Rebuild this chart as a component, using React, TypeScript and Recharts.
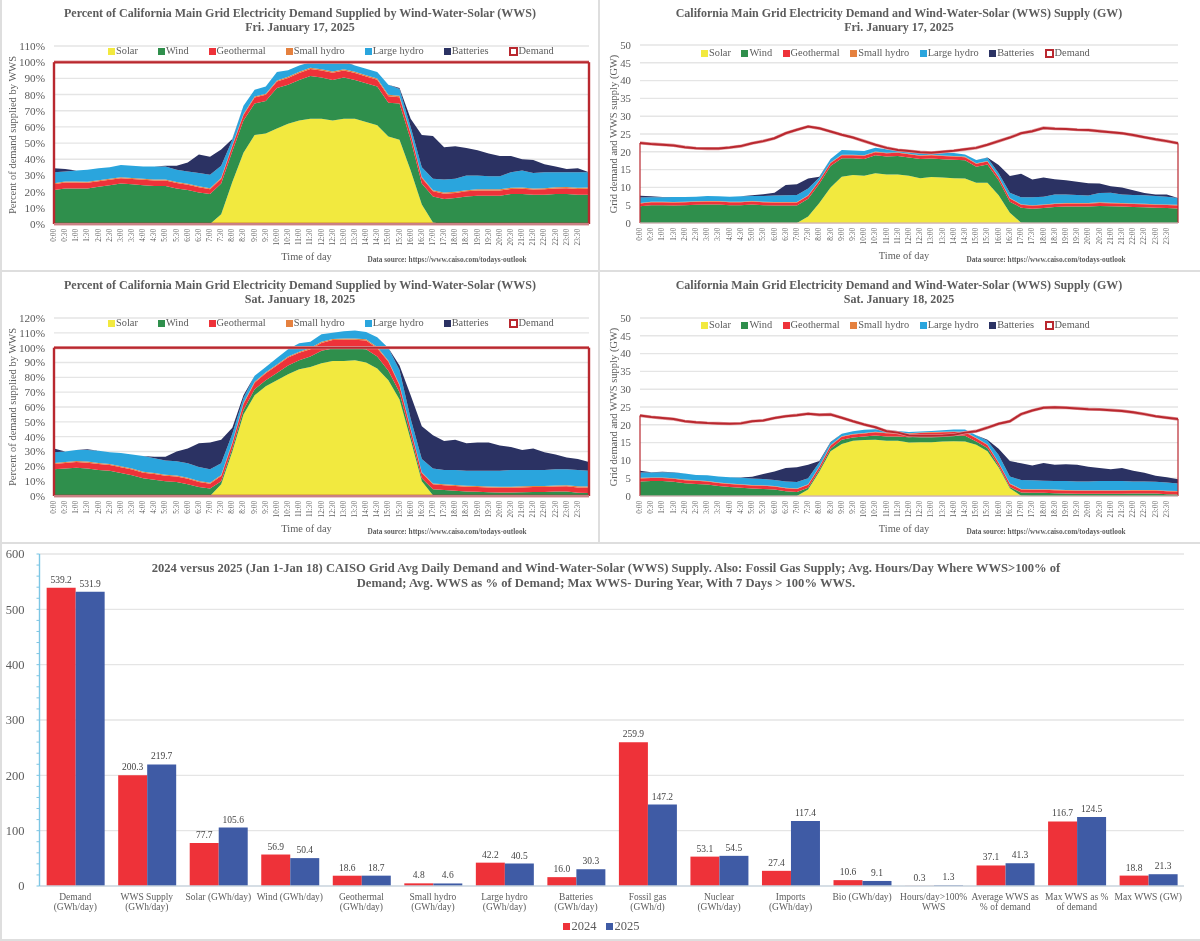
import React from "react";
import {
  ComposedChart, Area, Line, Bar, BarChart, XAxis, YAxis, CartesianGrid, ReferenceLine, Legend, LabelList,
} from "recharts";

const times = [
  "0:00","0:30","1:00","1:30","2:00","2:30","3:00","3:30","4:00","4:30",
  "5:00","5:30","6:00","6:30","7:00","7:30","8:00","8:30","9:00","9:30",
  "10:00","10:30","11:00","11:30","12:00","12:30","13:00","13:30","14:00","14:30",
  "15:00","15:30","16:00","16:30","17:00","17:30","18:00","18:30","19:00","19:30",
  "20:00","20:30","21:00","21:30","22:00","22:30","23:00","23:30","24:00",
];

// Fri Jan 17 – percent of demand
const pct17Solar = [0,0,0,0,0,0,0,0,0,0, 0,0,0,0,0,6,26,44,55,56, 59,62,64,65,65,64,65,65,63,61, 54,52,33,12,1,0,0,0,0,0, 0,0,0,0,0,0,0,0,0];
const pct17Wind = [21,22,22,22,23,24,25,24.5,24,23.5, 23.5,22,21,19.5,18.5,19,19,20,19.5,20, 25,24,25,26.5,25.5,25,25.5,24,24,24, 21,22.5,19,13,16,15.5,16,17,17.5,17.5, 17.5,18.5,18.5,18,18,18.5,18.5,18,18];
const pct17Geo = [3.6,3.6,3.6,3.5,3.4,3.4,3.3,3.3,3.4,3.4, 3.4,3.4,3.3,3.2,3,3,3,3.3,3.6,3.8, 4,4.2,4.3,4.3,4.4,4.4,4.4,4.3,4.2,4.1, 4,3.9,3.6,3.4,3.2,3.2,3.2,3.2,3.2,3.2, 3.2,3.2,3.3,3.3,3.4,3.5,3.6,3.7,3.8];
const pct17Small = [.6,.6,.6,.6,.6,.6,.6,.6,.6,.6, .6,.6,.6,.6,.6,.6,.7,.7,.7,.7, .7,.8,.8,.8,.8,.8,.8,.8,.8,.8, .8,.8,.7,.6,.6,.7,.7,.7,.7,.7, .7,.7,.7,.7,.7,.7,.7,.7,.7];
const pct17Large = [6.8,6.3,6.8,7.4,7.5,7,7.6,7.6,7.5,8, 8,7.5,7.6,8.2,8.4,7.4,3.3,5,4.2,4.5, 5.3,4,3.9,3.4,4.3,5.8,4.3,3.9,4,4.1, 6.2,4.3,3.7,6,7.1,8.1,8.1,9.1,8.6,8.1, 8.1,9.6,10.5,9.5,9.9,9.3,9.2,9.6,9.5];
const pct17Batt = [2.5,1.5,0,0,0,0,0,0,0,0, .5,2.5,5.5,11.5,11,10,.5,0,0,0, 0,0,0,0,.5,.5,.5,0,0,0, 0,.5,5,20,26.5,20,20,17,15.5,14, 12.5,10,7,8,5,3.5,2,2.5,0];
const pctDemand = [100,100,100,100,100,100,100,100,100,100, 100,100,100,100,100,100,100,100,100,100, 100,100,100,100,100,100,100,100,100,100, 100,100,100,100,100,100,100,100,100,100, 100,100,100,100,100,100,100,100,100];

// Fri Jan 17 – GW
const gw17Solar = [0,0,0,0,0,0,0,0,0,0, 0,0,0,0,0,1.8,5.6,10,13,13.5, 13.3,14,13.6,13.6,13.3,12.6,12.9,12.8,12.6,12.5, 11.3,11.3,7.8,2.9,.1,0,0,0,0,0, 0,0,0,0,0,0,0,0,0];
const gw17Wind = [4.7,5,5,4.9,5,5.1,5.2,5.2,5,5, 5.2,5,4.9,4.9,4.9,5,5.4,6,5.2,4.7, 4.7,5,5.1,5.2,5.1,5.4,5.2,5.1,5.2,5.1, 4.5,5.1,4.2,3.1,4.2,4,4.2,4.5,4.6,4.6, 4.6,4.8,4.7,4.6,4.5,4.4,4.3,4.2,4.1];
const gw17Geo = [.8,.85,.85,.85,.85,.85,.85,.85,.85,.85, .85,.85,.85,.85,.85,.85,.85,.85,.85,.85, .9,.9,.9,.9,.9,.9,.9,.9,.9,.9, .85,.85,.85,.85,.85,.85,.85,.85,.85,.85, .85,.85,.85,.85,.85,.85,.85,.85,.85];
const gw17Small = [.15,.15,.15,.15,.15,.15,.15,.15,.15,.15, .15,.15,.15,.15,.15,.15,.15,.15,.15,.15, .15,.15,.15,.15,.15,.15,.15,.15,.15,.15, .15,.15,.15,.15,.15,.15,.15,.15,.15,.15, .15,.15,.15,.15,.15,.15,.15,.15,.15];
const gw17Large = [1.5,1.2,1.2,1.4,1.3,1.3,1.4,1.3,1.4,1.5, 1.4,1.6,1.8,1.9,2,1.9,.8,1,1.3,1.2, 1.2,1.1,1,.8,.9,.9,.7,.8,.8,.6, .9,.9,1,1.5,1.9,2.2,2.2,2.5,2.4,2.3, 2.1,2.6,2.8,2.4,2.4,2.4,2.3,2.2,1.9];
const gw17Batt = [.5,.3,.1,0,0,0,0,0,0,0, .2,.5,.8,2.9,3,2.8,.2,0,0,0, 0,0,0,0,0,0,0,0,0,0, 0,.1,2.3,4.7,6.6,5,5.4,4.3,4,3.7, 3.5,2.7,1.8,2,1.3,.6,.4,.6,0];
const gw17Demand = [22.5,22.2,22,21.8,21.3,21,20.9,20.9,21.2,21.6, 22.4,23,23.8,25.2,26.2,27.1,26.6,25.7,24.8,24, 23,22,21.1,20.5,20.2,19.9,19.7,20,20.3,20.7, 21.1,22,23,24,25.2,25.8,26.7,26.5,26.4,26.2, 26.1,25.8,25.5,25.2,24.7,24.1,23.5,23,22.4];

// Sat Jan 18 – percent of demand
const pct18Solar = [0,0,0,0,0,0,0,0,0,0, 0,0,0,0,0,8,30,55,68,74, 78,82,85.5,87,89.5,91,91,91.5,90,86, 78,65,38,10,.5,0,0,0,0,0, 0,0,0,0,0,0,0,0,0];
const pct18Wind = [18,18.5,19,18.5,17.5,17,15.5,14,12,11, 10,9.5,8,6,5,2,2,3,4,4, 5,6,6,7,8.5,8.5,8.5,8,9,8, 6.5,5,3,2,4,4,3.5,3,2.8,2.5, 2.3,2.3,2.5,2.7,2.7,3,3,2.2,2];
const pct18Geo = [3.6,3.8,3.9,4,4,3.9,3.8,3.8,3.7,3.8, 3.7,3.7,3.6,3.4,3.3,3.4,3.6,4,4.4,4.8, 5,5.4,5,5,5.2,5.6,5.8,5.9,5.8,5.6, 6,4.5,4,3.5,3.4,3.2,3.2,3.2,3.2,3.2, 3.2,3.3,3.3,3.3,3.4,3.4,3.5,3.6,3.7];
const pct18Small = [.7,.7,.7,.7,.7,.7,.7,.7,.7,.7, .7,.7,.7,.7,.7,.7,.7,.7,.7,.7, .7,.7,.7,.7,.8,.8,.8,.8,.8,.8, .7,.7,.5,.5,.6,.7,.7,.7,.7,.7, .7,.7,.7,.7,.7,.7,.7,.7,.7];
const pct18Large = [7.2,7,7.4,7.8,8.3,7.9,9,9.5,10.6,10, 9.6,9.6,9.7,9.4,9,7.9,5.7,3.3,3.9,3.5, 4.3,4.9,5.8,4.3,5,4.1,4.9,5.3,4.9,6.6, 8.5,9.8,6.5,9,10,9.6,10.1,10.1,10.3,10.6, 10.8,11.2,11,10.8,10.7,10.9,10.8,11,10.6];
const pct18Batt = [2.5,0,0,.5,0,0,0,0,0,1, 2.5,6.5,10,16,18,16,4,2,0,0, 0,0,0,0,0,0,0,0,0,0, 0,3,16,22,22.5,19.5,20.5,18.5,19,19, 17,15.5,13.5,14.5,12,10,8,7.5,6];

// Sat Jan 18 – GW
const gw18Solar = [0,0,0,0,0,0,0,0,0,0, 0,0,0,0,0,1.8,6.8,12.6,14.6,15.5, 15.7,15.8,15.5,15.5,15,15.1,15.1,15.3,15.4,15.3, 14.4,12.6,8,2.2,.1,0,0,0,0,0, 0,0,0,0,0,0,0,0,0];
const gw18Wind = [4.1,4.2,4.2,4,3.6,3.4,3.2,2.8,2.5,2.3, 2.1,2,1.8,1.3,1.1,.5,.5,.7,1.2,.9, 1,1.2,1.2,1.2,1.5,1.6,1.7,1.6,1.6,1.6, .9,.9,.4,.3,.9,.9,.9,.8,.7,.6, .6,.6,.6,.6,.7,.7,.7,.5,.4];
const gw18Geo = [.85,.85,.85,.85,.85,.85,.85,.85,.85,.85, .85,.85,.85,.85,.85,.85,.85,.85,.85,.85, .85,.9,.9,.9,1,1,1,1,1,1, .9,.85,.85,.85,.85,.85,.85,.85,.85,.85, .85,.85,.85,.85,.85,.85,.85,.85,.85];
const gw18Small = gw17Small;
const gw18Large = [1.5,1.4,1.5,1.6,1.7,1.5,1.6,1.7,1.8,1.8, 1.8,1.8,1.7,1.8,1.8,1.7,1.2,.7,.7,.8, .9,.7,.8,.5,.3,.3,.3,.4,.5,.6, .7,1,2.1,2,2.5,2.5,2.4,2.4,2.5,2.5, 2.5,2.6,2.6,2.6,2.4,2.4,2.3,2.3,2.1];
const gw18Batt = [.5,.1,.1,.1,0,0,0,0,0,.1, .5,1.4,2.4,3.8,4.2,3.8,.3,.2,0,0, 0,0,0,0,0,0,0,0,0,0, 0,.3,1.8,4.3,4.7,4.2,5,4.6,4.7,4.7, 4.1,3.7,3.3,3.7,3,2.4,1.7,1.5,1.2];
const gw18Demand = [22.6,22.2,21.9,21.6,21,20.7,20.5,20.4,20.3,20.4, 21,21.2,21.9,22.4,22.7,23.1,22.8,22.9,22,21, 20.1,19.3,18.2,17.8,17,16.9,16.9,17,17.2,17.8, 18.2,19.2,20.3,21,23,24,24.8,24.9,24.8,24.6, 24.4,24.3,24.1,23.9,23.5,23,22.4,22,21.6];

// Bottom panel
const summaryCategories = [
  "Demand\n(GWh/day)","WWS Supply\n(GWh/day)","Solar (GWh/day)","Wind (GWh/day)","Geothermal\n(GWh/day)","Small hydro\n(GWh/day)",
  "Large hydro\n(GWh/day)","Batteries\n(GWh/day)","Fossil gas\n(GWh/d)","Nuclear\n(GWh/day)","Imports\n(GWh/day)","Bio (GWh/day)",
  "Hours/day>100%\nWWS","Average WWS as\n% of demand","Max WWS as %\nof demand","Max WWS (GW)",
];
const summary2024 = [539.2,200.3,77.7,56.9,18.6,4.8,42.2,16.0,259.9,53.1,27.4,10.6,0.3,37.1,116.7,18.8];
const summary2025 = [531.9,219.7,105.6,50.4,18.7,4.6,40.5,30.3,147.2,54.5,117.4,9.1,1.3,41.3,124.5,21.3];
const summaryAxisTicks = [0,20,40,60,80,100,120,140,160,180,200,220,240,260,280,300,320,340,360,380,400,420,440,460,480,500,520,540,560,580,600];
const summaryGrid = [100,200,300,400,500,600];

const SERIES = [
  { key: "solar", name: "Solar", color: "#f2e93f" },
  { key: "wind", name: "Wind", color: "#2f8f4c" },
  { key: "geo", name: "Geothermal", color: "#ee3239" },
  { key: "small", name: "Small hydro", color: "#e5813f" },
  { key: "large", name: "Large hydro", color: "#2aa5dd" },
  { key: "batt", name: "Batteries", color: "#2b3263" },
];
const DEMAND_COLOR = "#b9282f";
const DEMAND_HALO = "#e39a9d";
const HALO_NAME = "Demand outline";
const TEXT = "#5c5c5c";
const GRID = "#e5e5e5";
const FONT = "'Liberation Serif', serif";

const makeRows = (s: number[], w: number[], g: number[], sm: number[], l: number[], b: number[], d: number[]) =>
  times.map((time, i) => ({ time, solar: s[i], wind: w[i], geo: g[i], small: sm[i], large: l[i], batt: b[i], demand: d[i] }));

const rows1 = makeRows(pct17Solar, pct17Wind, pct17Geo, pct17Small, pct17Large, pct17Batt, pctDemand);
const rows2 = makeRows(gw17Solar, gw17Wind, gw17Geo, gw17Small, gw17Large, gw17Batt, gw17Demand);
const rows3 = makeRows(pct18Solar, pct18Wind, pct18Geo, pct18Small, pct18Large, pct18Batt, pctDemand);
const rows4 = makeRows(gw18Solar, gw18Wind, gw18Geo, gw18Small, gw18Large, gw18Batt, gw18Demand);

const TimeTick = (p: any) => {
  if (p.payload.value === "24:00") return null;
  return (
    <text x={p.x} y={p.y} transform={`rotate(-90 ${p.x} ${p.y})`} textAnchor="end" dominantBaseline="central"
      fontSize={7.2} fontFamily={FONT} fill={TEXT}>{p.payload.value}</text>
  );
};

const CategoryTick = (p: any) => {
  const lines = String(p.payload.value).split("\n");
  return (
    <text x={p.x} y={p.y} textAnchor="middle" fontSize={9.5} fontFamily={FONT} fill={TEXT}>
      {lines.map((t, i) => <tspan key={i} x={p.x} dy={i === 0 ? 0 : 10}>{t}</tspan>)}
    </text>
  );
};

const DayLegend = ({ payload, gap }: any) => (
  <div style={{ display: "flex", gap, fontFamily: FONT, fontSize: 10.4, color: TEXT, lineHeight: "12px", whiteSpace: "nowrap" }}>
    {(payload || []).filter((e: any) => e.value !== HALO_NAME).map((e: any) => (
      <span key={e.value} style={{ display: "flex", alignItems: "center", gap: 1 }}>
        <span style={e.value === "Demand"
          ? { width: 5, height: 5, border: `2px solid ${DEMAND_COLOR}`, background: "#fff", display: "inline-block" }
          : { width: 7, height: 7, background: e.color, display: "inline-block" }} />
        {e.value}
      </span>
    ))}
  </div>
);

const Caption = ({ x, y, children, size = 12, bold = true, w = 600 }: any) => (
  <div style={{ position: "absolute", left: x - w / 2, top: y, width: w, textAlign: "center", fontFamily: FONT,
    fontSize: size, fontWeight: bold ? 700 : 400, color: TEXT, lineHeight: "14px", whiteSpace: "nowrap" }}>{children}</div>
);

const DayChart = ({ box, plot, rows, yMax, yStep, suffix, yTitle, rightAxis, legendAt, legendGap, xTitleDx, edge }: any) => {
  const yTicks: number[] = [];
  for (let v = 0; v <= yMax; v += yStep) yTicks.push(v);
  const first = rows[0];
  const last = rows[rows.length - 1];
  const tickFont = suffix ? 11.2 : 10.8;
  return (
    <div style={{ position: "absolute", left: box.x, top: box.y }}>
      <ComposedChart width={box.w} height={box.h} data={rows}
        margin={{ top: plot.top, left: plot.left - 30, right: box.w - plot.right - (rightAxis ? 22 : 0), bottom: box.h - plot.bottom - 44 }}>
        <CartesianGrid horizontal vertical={false} stroke={GRID} strokeWidth={1.4} />
        <XAxis dataKey="time" interval={0} height={44} tick={<TimeTick />} tickLine={false} tickMargin={0} tickSize={5}
          axisLine={{ stroke: "#d9d9d9" }}
          label={{ value: "Time of day", position: "insideBottom", offset: 8, dx: xTitleDx, fontSize: 10.4, fontFamily: FONT, fill: TEXT }} />
        <YAxis width={30} domain={[0, yMax]} ticks={yTicks} interval={0} tickLine={false} axisLine={false} tickMargin={3}
          tickFormatter={(v: number) => `${v}${suffix}`} tick={{ fontSize: tickFont, fontFamily: FONT, fill: TEXT }}
          label={{ value: yTitle, angle: -90, position: "insideLeft", offset: 0, dx: suffix ? -12 : 3, style: { textAnchor: "middle" }, fontSize: 10.5, fontFamily: FONT, fill: TEXT }} />
        {rightAxis ? (
          <YAxis yAxisId="right" orientation="right" width={22} domain={[0, yMax]} ticks={yTicks} interval={0}
            tickLine={false} axisLine={false} tickMargin={9}
            tick={{ fontSize: tickFont, fontFamily: FONT, fill: TEXT }} />
        ) : null}
        <Legend verticalAlign="middle" align="center" layout="horizontal" itemSorter={null}
          wrapperStyle={{ left: legendAt.x, top: legendAt.y, width: 520, height: 14, bottom: "auto", right: "auto" }}
          content={(p: any) => <DayLegend payload={p.payload} gap={legendGap} />} />
        {SERIES.map((s) => (
          <Area key={s.key} dataKey={s.key} name={s.name} stackId="wws" type="linear" fill={s.color} fillOpacity={1}
            stroke="none" dot={false} activeDot={false} isAnimationActive={false} />
        ))}
        <Line dataKey="demand" name={HALO_NAME} legendType="none" type="linear" stroke={DEMAND_HALO} strokeWidth={3.2} dot={false} activeDot={false} isAnimationActive={false} />
        <Line dataKey="demand" name="Demand" type="linear" stroke={DEMAND_COLOR} strokeWidth={2} dot={false} activeDot={false} isAnimationActive={false} />
        <ReferenceLine segment={[{ x: first.time, y: 0 }, { x: first.time, y: first.demand }]} stroke={DEMAND_COLOR} strokeWidth={edge} />
        <ReferenceLine segment={[{ x: last.time, y: 0 }, { x: last.time, y: last.demand }]} stroke={DEMAND_COLOR} strokeWidth={edge} />
        <ReferenceLine segment={[{ x: first.time, y: 0 }, { x: last.time, y: 0 }]} stroke={DEMAND_COLOR} strokeWidth={edge} strokeOpacity={edge > 2 ? 1 : 0.55} />
      </ComposedChart>
    </div>
  );
};

const summaryRows = summaryCategories.map((c, i) => ({ c, y2024: summary2024[i], y2025: summary2025[i] }));

const SummaryLegend = ({ payload }: any) => (
  <div style={{ display: "flex", gap: 9, justifyContent: "center", fontFamily: FONT, fontSize: 12.5, color: TEXT, lineHeight: "14px" }}>
    {(payload || []).map((e: any) => (
      <span key={e.value} style={{ display: "flex", alignItems: "center", gap: 2 }}>
        <span style={{ width: 7, height: 7, background: e.color, display: "inline-block" }} />{e.value}
      </span>
    ))}
  </div>
);

const SummaryChart = () => (
  <div style={{ position: "absolute", left: 0, top: 543 }}>
    <BarChart width={1200} height={398} data={summaryRows} barCategoryGap="10%" barGap={0}
      margin={{ top: 11, left: 9.5, right: 16, bottom: 12 }}>
      <CartesianGrid horizontal vertical={false} horizontalValues={summaryGrid} stroke={GRID} strokeWidth={1.4} />
      <XAxis dataKey="c" interval={0} height={43} tick={<CategoryTick />} tickLine={false} tickMargin={8} axisLine={{ stroke: "#c9d3dc", strokeWidth: 1.5 }} />
      <YAxis width={30} domain={[0, 600]} ticks={summaryAxisTicks} interval={0} axisLine={{ stroke: "#7cc6e4", strokeWidth: 1.4 }}
        tickLine={{ stroke: "#7cc6e4" }} tickSize={3} tickMargin={12}
        tickFormatter={(v: number) => (v % 100 === 0 ? String(v) : "")} tick={{ fontSize: 12.5, fontFamily: FONT, fill: TEXT }} />
      <Legend verticalAlign="middle" align="center" layout="horizontal" itemSorter={null}
        wrapperStyle={{ left: 416, top: 376, width: 370, height: 16, bottom: "auto", right: "auto" }}
        content={(p: any) => <SummaryLegend payload={p.payload} />} />
      <Bar dataKey="y2024" name="2024" fill="#ee3239" isAnimationActive={false}>
        <LabelList dataKey="y2024" position="top" offset={5} formatter={(v: number) => v.toFixed(1)} style={{ fontSize: 9.5, fontFamily: FONT, fill: "#444" }} />
      </Bar>
      <Bar dataKey="y2025" name="2025" fill="#3f5ba5" isAnimationActive={false}>
        <LabelList dataKey="y2025" position="top" offset={5} formatter={(v: number) => v.toFixed(1)} style={{ fontSize: 9.5, fontFamily: FONT, fill: "#444" }} />
      </Bar>
    </BarChart>
  </div>
);

const Rule = ({ x, y, w, h }: any) => <div style={{ position: "absolute", left: x, top: y, width: w, height: h, background: "#dedede" }} />;

const TITLE_PCT = "Percent of California Main Grid Electricity Demand Supplied by Wind-Water-Solar (WWS)";
const TITLE_GW = "California Main Grid Electricity Demand and Wind-Water-Solar (WWS) Supply (GW)";
const SOURCE = "Data source: https://www.caiso.com/todays-outlook";

export default function App() {
  return (
    <div style={{ position: "absolute", left: 0, top: 0, width: 1200, height: 941, background: "#fff", overflow: "hidden", filter: "blur(0.35px)" }}>
      <DayChart box={{ x: 0, y: 0, w: 599, h: 271 }} plot={{ left: 54, right: 589, top: 46, bottom: 224 }} rows={rows1} yMax={110} yStep={10} suffix="%"
        yTitle="Percent of demand supplied by WWS" legendAt={{ x: 108, y: 45 }} legendGap={20} xTitleDx={-15} edge={2.4} />
      <DayChart box={{ x: 600, y: 0, w: 600, h: 271 }} plot={{ left: 40, right: 578, top: 45, bottom: 223 }} rows={rows2} yMax={50} yStep={5} suffix=""
        yTitle="Grid demand and WWS supply (GW)" rightAxis legendAt={{ x: 101, y: 47 }} legendGap={10.5} xTitleDx={-5} edge={1.2} />
      <DayChart box={{ x: 0, y: 270, w: 599, h: 273 }} plot={{ left: 54, right: 589, top: 48, bottom: 226 }} rows={rows3} yMax={120} yStep={10} suffix="%"
        yTitle="Percent of demand supplied by WWS" legendAt={{ x: 108, y: 47 }} legendGap={20} xTitleDx={-15} edge={2.4} />
      <DayChart box={{ x: 600, y: 270, w: 600, h: 273 }} plot={{ left: 40, right: 578, top: 48, bottom: 226 }} rows={rows4} yMax={50} yStep={5} suffix=""
        yTitle="Grid demand and WWS supply (GW)" rightAxis legendAt={{ x: 101, y: 49 }} legendGap={10.5} xTitleDx={-5} edge={1.2} />
      <SummaryChart />

      <Caption x={300} y={6}>{TITLE_PCT}</Caption>
      <Caption x={300} y={20}>Fri. January 17, 2025</Caption>
      <Caption x={899} y={6}>{TITLE_GW}</Caption>
      <Caption x={899} y={20}>Fri. January 17, 2025</Caption>
      <Caption x={300} y={278}>{TITLE_PCT}</Caption>
      <Caption x={300} y={292}>Sat. January 18, 2025</Caption>
      <Caption x={899} y={278}>{TITLE_GW}</Caption>
      <Caption x={899} y={292}>Sat. January 18, 2025</Caption>
      <Caption x={447} y={253} size={7.3}>{SOURCE}</Caption>
      <Caption x={1046} y={253} size={7.3}>{SOURCE}</Caption>
      <Caption x={447} y={525} size={7.3}>{SOURCE}</Caption>
      <Caption x={1046} y={525} size={7.3}>{SOURCE}</Caption>
      <Caption x={606} y={561} size={12.6} w={1100}>2024 versus 2025 (Jan 1-Jan 18) CAISO Grid Avg Daily Demand and Wind-Water-Solar (WWS) Supply. Also: Fossil Gas Supply; Avg. Hours/Day Where WWS&gt;100% of</Caption>
      <Caption x={606} y={576} size={12.6} w={1100}>Demand; Avg. WWS as % of Demand; Max WWS- During Year, With 7 Days &gt; 100% WWS.</Caption>

      <Rule x={598} y={0} w={2} h={543} />
      <Rule x={0} y={270} w={1200} h={2} />
      <Rule x={0} y={542} w={1200} h={2} />
      <Rule x={0} y={939} w={1200} h={2} />
      <Rule x={0} y={0} w={1.5} h={941} />
    </div>
  );
}
